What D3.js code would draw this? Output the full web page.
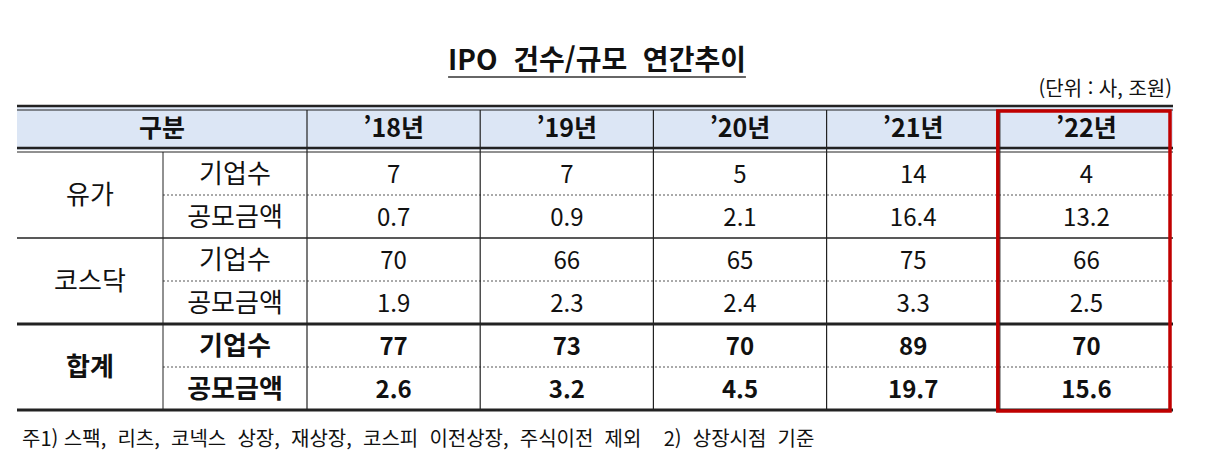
<!DOCTYPE html>
<html lang="ko">
<head>
<meta charset="UTF-8">
<title>IPO</title>
<script src="https://cdn.jsdelivr.net/npm/d3@7"></script>
<style>
	body{margin:0;background:#fff}
	text{font-family:"Noto Sans CJK KR","Noto Sans",sans-serif;fill:#111;white-space:pre}
</style>
</head>
<body>
<svg id="cont" width="1222" height="472"></svg>
<script>
	let years=["’18년","’19년","’20년","’21년","’22년"]
	let groups=["유가","코스닥","합계"]
	let items=["기업수","공모금액"]
	let values=[
		["7","7","5","14","4"],
		["0.7","0.9","2.1","16.4","13.2"],
		["70","66","65","75","66"],
		["1.9","2.3","2.4","3.3","2.5"],
		["77","73","70","89","70"],
		["2.6","3.2","4.5","19.7","15.6"]
	]

	let svg=d3.select("#cont")
	let left=17, c1=163, c2=307, right=1173
	let hTop=106, hBot=150, bottom=410

	let x=d3.scaleBand().domain(years).range([c2,right])
	let y=d3.scaleBand().domain(d3.range(6)).range([hBot+2,bottom])

	// title
	let t=svg.append("text").attr("x",597).attr("y",70).attr("text-anchor","middle")
		.style("font-size","28px").style("font-weight","bold").text("IPO  건수/규모  연간추이")
	let bb=t.node().getBBox()
	svg.append("line").attr("x1",bb.x).attr("x2",bb.x+bb.width).attr("y1",77).attr("y2",77)
		.attr("stroke","#333").attr("stroke-width",1.5)
	svg.append("text").attr("x",1172).attr("y",96).attr("text-anchor","end")
		.style("font-size","20px").text("(단위 : 사, 조원)")

	// header
	svg.append("rect").attr("x",left).attr("y",hTop).attr("width",right-left).attr("height",hBot-hTop)
		.attr("fill","#dce6f5")
	svg.append("text").attr("x",(left+c2)/2).attr("y",(hTop+hBot)/2+9).attr("text-anchor","middle")
		.style("font-size","25px").style("font-weight","bold").text("구분")
	svg.selectAll(".yr").data(years).enter().append("text")
		.attr("x",d=>x(d)+x.bandwidth()/2).attr("y",(hTop+hBot)/2+9).attr("text-anchor","middle")
		.style("font-size","25px").style("font-weight","bold").text(d=>d)

	// lines
	let hl=(yy,w)=>svg.append("line").attr("x1",left).attr("x2",right).attr("y1",yy).attr("y2",yy)
		.attr("stroke","#222").attr("stroke-width",w)
	hl(hTop,2.5); hl(hTop+4,1)
	hl(hBot-2,2.5); hl(hBot+2,1)
	hl(y(2),1.5); hl(y(4),3); hl(bottom,3)
	for(let i of [1,3,5]){
		svg.append("line").attr("x1",c1).attr("x2",right).attr("y1",y(i)).attr("y2",y(i))
			.attr("stroke","#555").attr("stroke-width",1).attr("stroke-dasharray","2,2")
	}
	svg.append("line").attr("x1",c1).attr("x2",c1).attr("y1",hBot+2).attr("y2",bottom).attr("stroke","#222")
	svg.selectAll(".vl").data(years).enter().append("line")
		.attr("x1",d=>x(d)).attr("x2",d=>x(d)).attr("y1",hTop+4).attr("y2",bottom)
		.attr("stroke","#222").attr("stroke-width",1.2)

	// row labels
	svg.selectAll(".grp").data(groups).enter().append("text")
		.attr("x",(left+c1)/2).attr("y",(d,i)=>y(i*2)+y.bandwidth()+9).attr("text-anchor","middle")
		.style("font-size","26px").style("font-weight",(d,i)=>i==2?"bold":"normal").text(d=>d)
	svg.selectAll(".itm").data(d3.range(6)).enter().append("text")
		.attr("x",(c1+c2)/2).attr("y",d=>y(d)+y.bandwidth()/2+9).attr("text-anchor","middle")
		.style("font-size","26px").style("font-weight",d=>d>=4?"bold":"normal").text(d=>items[d%2])

	// values
	values.forEach((row,r)=>{
		svg.selectAll(".v"+r).data(row).enter().append("text")
			.attr("x",(d,i)=>x(years[i])+x.bandwidth()/2).attr("y",y(r)+y.bandwidth()/2+9)
			.attr("text-anchor","middle").style("font-size","24px")
			.style("font-weight",r>=4?"bold":"normal").text(d=>d)
	})

	// highlight
	svg.append("rect").attr("x",x("’22년")-2).attr("y",111).attr("width",x.bandwidth()-1).attr("height",300)
		.attr("fill","none").attr("stroke","#c00000").attr("stroke-width",3.5)

	svg.append("text").attr("x",22).attr("y",446).style("font-size","20px")
		.text("주1) 스팩,  리츠,  코넥스  상장,  재상장,  코스피  이전상장,  주식이전  제외    2)  상장시점  기준")
</script>
</body>
</html>
